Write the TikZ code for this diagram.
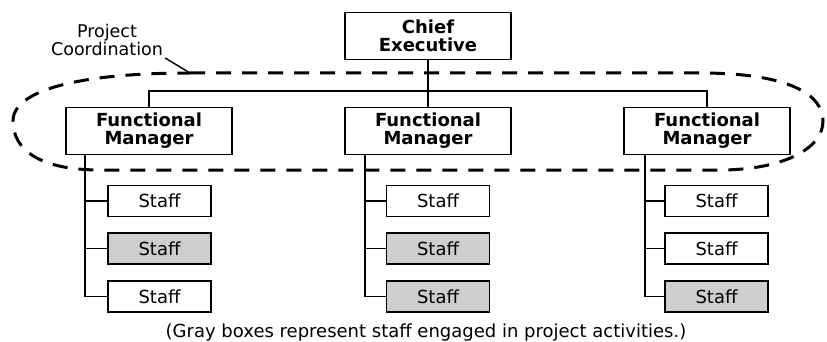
\documentclass[tikz,border=0pt]{standalone}
\usepackage{fontspec}
\setmainfont{DejaVu Sans}
\usetikzlibrary{positioning}

\definecolor{staffgray}{RGB}{206,206,206}

\begin{document}
\begin{tikzpicture}[
  x=1pt,y=-1pt,
  box/.style={draw,line width=1.8pt,inner sep=0pt,align=center},
  boss/.style={box,minimum width=166pt,minimum height=47pt,
    font=\bfseries\fontsize{18}{18}\selectfont},
  staff/.style={box,minimum width=103pt,minimum height=31pt,
    font=\fontsize{18}{18}\selectfont},
  active/.style={staff,fill=staffgray},
  link/.style={line width=1.4pt}
]
\useasboundingbox (0,0) rectangle (827,342);

% top of the chart
\node[boss] (ceo) at (428,36) {Chief\\Executive};
\node[boss] (fm1) at (149,131) {Functional\\Manager};
\node[boss] (fm2) at (428,131) {Functional\\Manager};
\node[boss] (fm3) at (707,131) {Functional\\Manager};

\coordinate (bar) at (428,91);
\draw[link] (ceo.south) -- (fm2.north);
\draw[link] (fm1.north) |- (bar) -| (fm3.north);

% staff under each manager (grey = on the project)
\node[staff]  (s11) at (159.5,201)   {Staff};
\node[active] (s12) at (159.5,248.5) {Staff};
\node[staff]  (s13) at (159.5,296.5) {Staff};

\node[staff]  (s21) at (438,201)   {Staff};
\node[active] (s22) at (438,248.5) {Staff};
\node[active] (s23) at (438,296.5) {Staff};

\node[staff]  (s31) at (716.5,201)   {Staff};
\node[staff]  (s32) at (716.5,248.5) {Staff};
\node[active] (s33) at (716.5,296.5) {Staff};

\coordinate (sp1) at ([xshift=20pt]fm1.south west);
\coordinate (sp2) at ([xshift=21pt]fm2.south west);
\coordinate (sp3) at ([xshift=22pt]fm3.south west);
\draw[link] (sp1) |- (s11.west);
\draw[link] (sp1) |- (s12.west);
\draw[link] (sp1) |- (s13.west);
\draw[link] (sp2) |- (s21.west);
\draw[link] (sp2) |- (s22.west);
\draw[link] (sp2) |- (s23.west);
\draw[link] (sp3) |- (s31.west);
\draw[link] (sp3) |- (s32.west);
\draw[link] (sp3) |- (s33.west);

% project coordination loop round the managers
\coordinate (tip) at (190,73);
\draw[line width=3pt,dash pattern=on 15pt off 11pt]
  (tip) -- (700,73) .. controls (790,73) and (823,95) .. (823,121)
  .. controls (823,150) and (780,170) .. (720,170) -- (100,170)
  .. controls (40,170) and (13,150) .. (13,121)
  .. controls (13,90) and (80,73) .. (tip);

\node[align=center,inner sep=2pt,font=\fontsize{17.5}{18}\selectfont]
  (pc) at (107,40) {Project\\Coordination};
\draw[line width=1.4pt] (pc.south east) -- (tip);

\node[font=\fontsize{18}{18}\selectfont] (note) at (426,333)
  {(Gray boxes represent staff engaged in project activities.)};
\end{tikzpicture}
\end{document}
